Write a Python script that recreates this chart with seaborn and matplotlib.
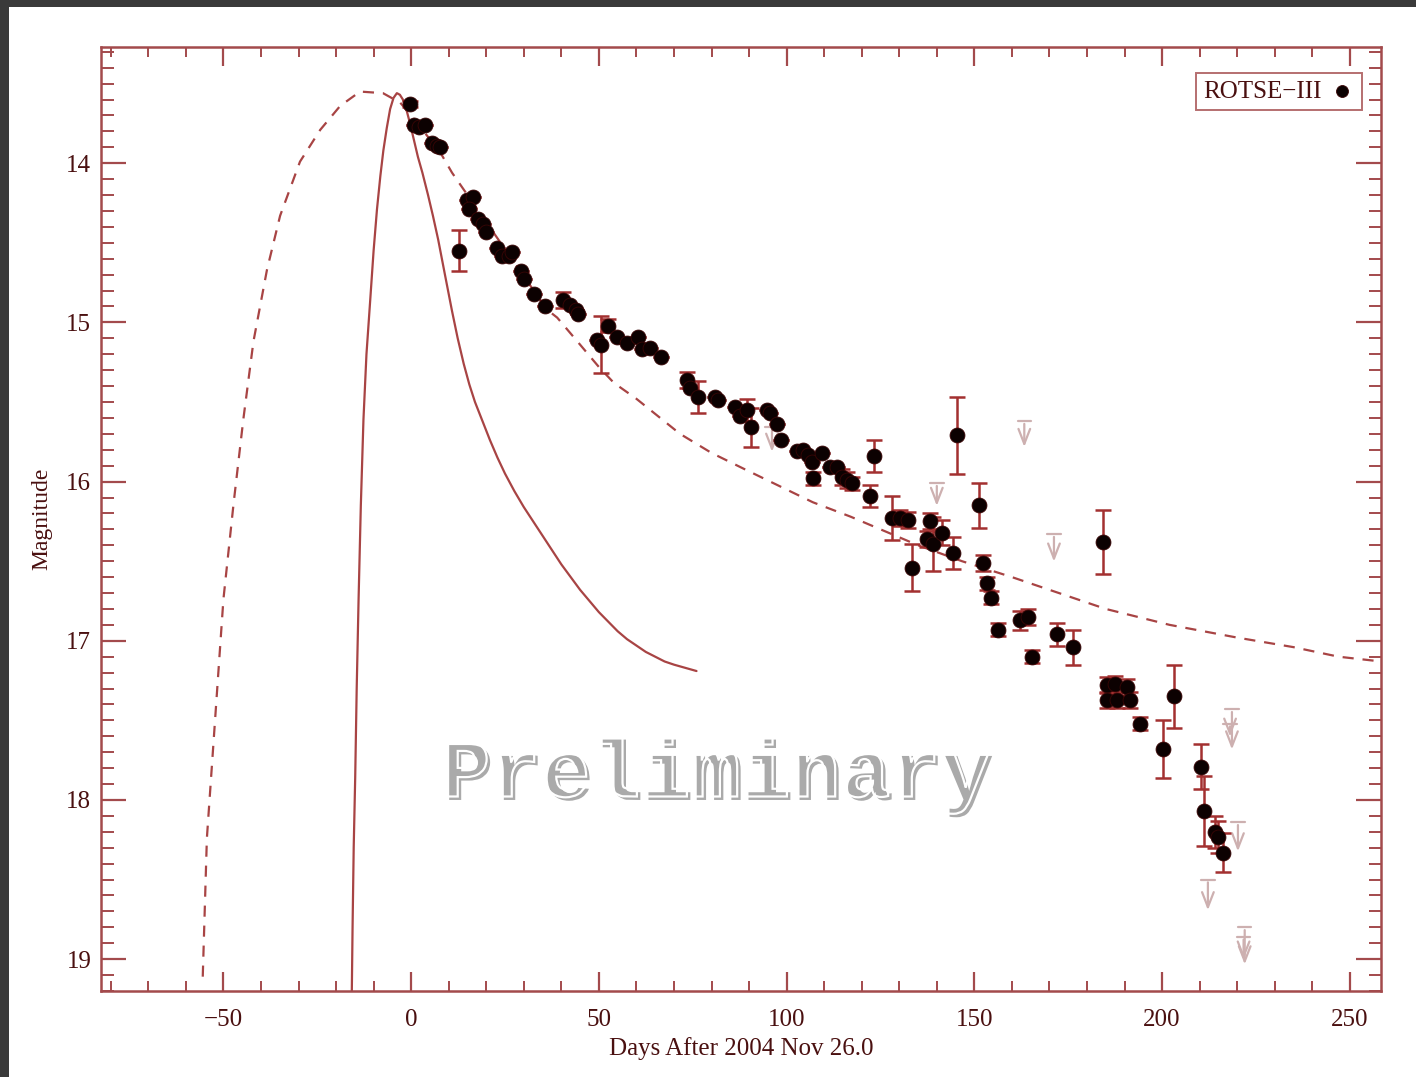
import numpy as np
import pandas as pd
import matplotlib
matplotlib.use('Agg')
import matplotlib.pyplot as plt
import seaborn as sns
from matplotlib.ticker import MultipleLocator
from matplotlib import patheffects as pe
from matplotlib.patches import Rectangle

# ---------------- data ----------------
days = [-0.3, 0.8, 2.1, 3.7, 5.6, 6.9, 7.7, 12.8, 14.9, 16.5, 15.4, 17.8, 19.2, 20.0,
        22.9, 24.2, 26.1, 26.9, 29.3, 30.1, 32.8, 35.7, 40.5, 42.3, 43.9, 44.5,
        49.4, 50.6, 52.5, 54.9, 57.5, 60.5, 61.5, 63.6, 66.6,
        73.5, 74.3, 76.4, 81.0, 81.8, 86.3, 87.6, 89.5, 90.5, 94.8, 95.6, 97.5, 98.5,
        102.8, 104.4, 105.7, 106.8, 107.1, 109.5, 111.6, 113.4, 114.8, 116.1, 117.4,
        122.2, 123.3, 128.1, 130.2, 132.4, 133.4, 137.4, 138.2, 139.0, 141.4, 144.3,
        145.3, 151.3, 152.3, 153.4, 154.5, 156.3, 162.2, 164.3, 165.4, 172.0, 176.3,
        184.3, 185.3, 187.5, 190.7, 185.3, 188.0, 191.5, 194.1, 200.3, 203.2,
        210.4, 211.2, 214.1, 214.9, 216.2]
mags = [13.63, 13.76, 13.77, 13.76, 13.87, 13.89, 13.90, 14.55, 14.23, 14.21, 14.29, 14.35, 14.38, 14.43,
        14.53, 14.58, 14.58, 14.56, 14.68, 14.73, 14.82, 14.90, 14.86, 14.89, 14.92, 14.95,
        15.11, 15.14, 15.02, 15.09, 15.13, 15.09, 15.17, 15.16, 15.22,
        15.36, 15.41, 15.47, 15.47, 15.49, 15.53, 15.59, 15.55, 15.66, 15.55, 15.57, 15.64, 15.74,
        15.81, 15.80, 15.83, 15.88, 15.98, 15.82, 15.91, 15.91, 15.97, 15.99, 16.01,
        16.09, 15.84, 16.23, 16.23, 16.24, 16.54, 16.36, 16.25, 16.39, 16.32, 16.45,
        15.71, 16.15, 16.51, 16.64, 16.73, 16.93, 16.87, 16.85, 17.10, 16.96, 17.04,
        16.38, 17.28, 17.27, 17.29, 17.37, 17.37, 17.37, 17.52, 17.68, 17.35,
        17.79, 18.07, 18.20, 18.23, 18.33]
errs = [0.02, 0, 0, 0, 0, 0, 0, 0.13, 0, 0, 0, 0, 0, 0,
        0, 0, 0, 0, 0, 0, 0, 0, 0.05, 0, 0, 0,
        0, 0.18, 0.04, 0, 0, 0, 0, 0, 0,
        0.05, 0, 0.10, 0, 0, 0, 0, 0.07, 0.12, 0, 0, 0, 0,
        0, 0, 0, 0, 0.04, 0, 0, 0, 0.05, 0.05, 0.04,
        0.07, 0.10, 0.14, 0.05, 0.05, 0.15, 0.05, 0.05, 0.17, 0.08, 0.10,
        0.24, 0.14, 0.05, 0.04, 0.04, 0.04, 0.06, 0.05, 0.04, 0.07, 0.11,
        0.20, 0.05, 0.05, 0.05, 0.05, 0.05, 0.05, 0.04, 0.18, 0.20,
        0.14, 0.22, 0.10, 0.10, 0.12]

# upper limits: day, magnitude at top bar, magnitude at arrow head
lim_days = [96.1, 140.0, 163.3, 171.2, 218.6, 218.1, 220.2, 212.2, 222.0, 221.7]
lim_top = [15.66, 16.01, 15.62, 16.33, 17.43, 17.52, 18.14, 18.50, 18.80, 18.86]
lim_head = [15.83, 16.17, 15.80, 16.52, 17.70, 17.62, 18.34, 18.71, 19.05, 19.02]

# model curves
dash_days = [-55.5, -54.4, -52.2, -50.0, -47.3, -44.7, -42.0, -38.4, -34.9, -29.6, -24.2,
             -18.9, -13.6, -7.5, -2.9, 0.0, 4.0, 7.7, 10.9, 20.0, 30.0, 36.2, 38.9, 45.0,
             50.0, 54.0, 60.0, 71.6, 80.0, 89.5, 100.0, 107.0, 117.0, 125.0, 135.0, 146.7,
             160.0, 170.0, 185.0, 202.0, 220.0, 235.0, 247.0, 258.3]
dash_mags = [19.11, 18.24, 17.49, 16.74, 16.14, 15.61, 15.12, 14.67, 14.33, 13.99, 13.79,
             13.64, 13.55, 13.56, 13.62, 13.70, 13.82, 13.93, 14.06, 14.37, 14.71, 14.92, 14.97, 15.14,
             15.28, 15.38, 15.48, 15.70, 15.82, 15.93, 16.05, 16.13, 16.22, 16.30, 16.40, 16.50,
             16.60, 16.68, 16.80, 16.90, 16.98, 17.04, 17.10, 17.13]
solid_days = [-15.8, -15.6, -15.3, -14.9, -14.5, -14.0, -13.4, -12.7, -11.9, -10.9, -10.0,
              -9.1, -8.2, -7.4, -6.5, -5.6, -4.7, -3.8, -3.0, -2.2, -1.3, -0.3, 0.7, 1.8,
              3.0, 4.5, 5.8, 7.2, 9.0, 10.9, 12.4, 14.0, 15.5, 17.0, 19.0, 21.0, 23.0, 25.0,
              27.5, 30.0, 32.5, 35.0, 37.5, 40.0, 42.5, 45.0, 47.5, 50.0, 52.5, 55.0, 57.5,
              60.0, 62.5, 65.0, 67.5, 70.0, 73.0, 76.0]
solid_mags = [19.20, 18.80, 18.30, 17.86, 17.30, 16.74, 16.15, 15.61, 15.20, 14.86, 14.55,
              14.29, 14.08, 13.92, 13.78, 13.66, 13.59, 13.56, 13.57, 13.60, 13.66, 13.75, 13.85, 13.96,
              14.06, 14.20, 14.33, 14.48, 14.70, 14.93, 15.10, 15.26, 15.39, 15.50, 15.62, 15.74, 15.85, 15.95,
              16.06, 16.16, 16.25, 16.34, 16.43, 16.52, 16.60, 16.68, 16.75, 16.82, 16.88, 16.94, 16.99,
              17.03, 17.07, 17.10, 17.13, 17.15, 17.17, 17.19]

x_ticks = [-50, 0, 50, 100, 150, 200, 250]
y_ticks = [14, 15, 16, 17, 18, 19]

# ---------------- style ----------------
sns.set_theme(style='ticks')
plt.rcParams['font.family'] = ['Liberation Serif', 'DejaVu Serif']
plt.rcParams['axes.unicode_minus'] = True

AXC = '#a34a4c'
TXT = '#4a1010'
CURVE = '#a84444'
ERRC = '#a33030'
LIMC = '#cdb0b0'

fig = plt.figure(figsize=(14.16, 10.77), dpi=100)
fig.patch.set_facecolor('#3a3a3a')
fig.add_artist(Rectangle((9 / 1416, 0), 1 - 9 / 1416, 1 - 7 / 1077,
                         transform=fig.transFigure, facecolor='white',
                         edgecolor='none', zorder=-5))
ax = fig.add_axes([101 / 1416, 1 - 991 / 1077, 1280 / 1416, 944 / 1077])
ax.set_facecolor('white')

# model curves
curves = pd.DataFrame({'day': dash_days, 'mag': dash_mags})
sns.lineplot(data=curves, x='day', y='mag', sort=False, estimator=None, ax=ax,
             color=CURVE, lw=1.6, linestyle=(0, (5, 4)), zorder=1)
sc = pd.DataFrame({'day': solid_days, 'mag': solid_mags})
sns.lineplot(data=sc, x='day', y='mag', sort=False, estimator=None, ax=ax,
             color=CURVE, lw=1.6, zorder=1)

# upper limits
for d, t, h in zip(lim_days, lim_top, lim_head):
    ax.plot([d - 1.8, d + 1.8], [t, t], color=LIMC, lw=1.6, zorder=1.5)
    ax.annotate('', xy=(d, h), xytext=(d, t),
                arrowprops=dict(arrowstyle='->,head_length=0.9,head_width=0.35',
                                color=LIMC, lw=1.6), zorder=1.5)

# error bars
df = pd.DataFrame({'day': days, 'mag': mags, 'err': errs})
ax.errorbar(df['day'], df['mag'], yerr=df['err'], fmt='none', ecolor=ERRC,
            elinewidth=1.8, capsize=5.5, capthick=1.8, zorder=2)

# data points
sns.scatterplot(data=df, x='day', y='mag', ax=ax, s=115, color='#0c0101',
                edgecolor='#3a0505', linewidth=0.6, zorder=3, label='ROTSE\u2212III')

# axes settings
ax.set_xlim(-82.6, 258.3)
ax.set_ylim(19.2, 13.27)
ax.set_xticks(x_ticks)
ax.set_yticks(y_ticks)
ax.xaxis.set_minor_locator(MultipleLocator(10))
ax.yaxis.set_minor_locator(MultipleLocator(0.1))
for s in ax.spines.values():
    s.set_color(AXC)
    s.set_linewidth(1.8)
ax.tick_params(axis='x', which='major', direction='in', length=14, width=1.6,
               top=True, bottom=True, color=AXC, labelsize=18, labelcolor=TXT, pad=13)
ax.tick_params(axis='x', which='minor', direction='in', length=7, width=1.4,
               top=True, bottom=True, color=AXC)
ax.tick_params(axis='y', which='major', direction='in', length=18, width=1.6,
               left=True, right=True, color=AXC, labelsize=18, labelcolor=TXT, pad=7)
ax.tick_params(axis='y', which='minor', direction='in', length=9, width=1.4,
               left=True, right=True, color=AXC)
ax.set_xlabel('Days After 2004 Nov 26.0', fontsize=18, color=TXT, labelpad=4)
ax.set_ylabel('Magnitude', fontsize=17, color=TXT, labelpad=10)

# legend
leg = ax.legend(loc='upper right', bbox_to_anchor=(0.985, 0.9725), borderaxespad=0,
                markerfirst=False, fontsize=18, frameon=True, fancybox=False,
                handletextpad=0.3, borderpad=0.3, markerscale=0.8, handlelength=1.0)
leg.get_frame().set_edgecolor(AXC)
leg.get_frame().set_linewidth(1.4)
for t in leg.get_texts():
    t.set_color(TXT)

# watermark
ax.text(81.9, 18.0, 'Preliminary', fontsize=60, family='Liberation Mono',
        fontweight='bold', color='#aaaaaa', ha='center', va='baseline', zorder=4,
        path_effects=[pe.Normal(),
                      pe.PathPatchEffect(offset=(-2.5, 2.5), facecolor='none',
                                         edgecolor='white', linewidth=1.6)])

fig.savefig('out.png', dpi=100, facecolor=fig.get_facecolor())
